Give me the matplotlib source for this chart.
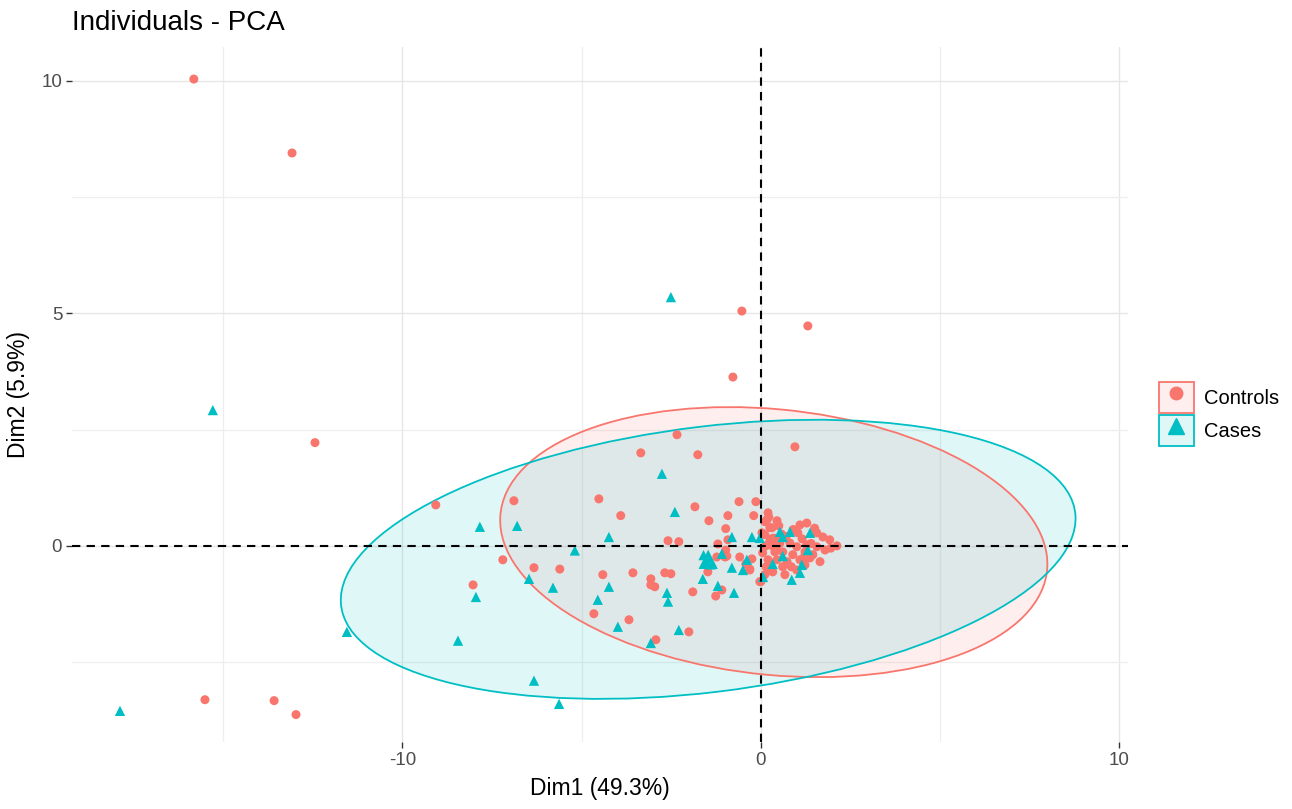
import numpy as np
import matplotlib.pyplot as plt
from matplotlib.patches import Ellipse, Patch
from matplotlib.lines import Line2D
from matplotlib.legend_handler import HandlerTuple
from matplotlib.colors import to_rgba

title = 'Individuals - PCA'
xlab = 'Dim1 (49.3%)'
ylab = 'Dim2 (5.9%)'

groups = ['Controls', 'Cases']
colors = ['#F8766D', '#00BFC4']
markers = ['o', '^']

# individuals
ctrl_x = [-15.82, -13.08, -12.44, -0.53, 1.31, -0.78, 0.95, -15.51, -13.58, -12.97, -9.07, -8.03,
          -6.89, -7.2, -6.33, -5.61, -4.66, -4.52,
          -2.34, -3.35, -1.76, -3.91, -1.84, -0.61, -0.14, -1.45, -0.92, -0.98, -0.2, -2.59,
          -2.29, -1.2, -0.92, -4.41, -3.57, -3.07, -3.07, -2.96, -2.68, -2.51, -3.68, -2.01,
          -2.93, -1.9, -1.26, -1.09, -1.48, -1.23, -0.95, -0.98, -0.59, -0.42, -0.31, -0.25,
          0.0, 0.33, 0.11, -1.0, -0.31,
          0.11, 0.17, 0.2, 0.22, 0.11, 0.45, 0.5, 0.25, 0.03, 1.09, 1.28, 1.03, 1.56, 1.73,
          1.92, 2.12, 0.53, 0.81, 1.0, 1.28, 1.56, 1.79, 0.39, 0.61, 0.89, 1.23, 1.45, 0.45,
          0.73, 1.09, 1.37, 1.65, 0.2, 0.61, 1.23, 1.0, 0.25, 0.67, -0.03, 0.31, 0.45, 0.33,
          0.14, 0.7, 1.15, 1.4, 0.9, 1.5, 0.58, 0.05, 1.95, 1.2, 0.85, 0.15]
ctrl_y = [10.04, 8.45, 2.22, 5.05, 4.73, 3.63, 2.13, -3.31, -3.33, -3.63, 0.88, -0.84,
          0.97, -0.3, -0.47, -0.5, -1.46, 1.01,
          2.39, 2.0, 1.96, 0.65, 0.84, 0.95, 0.95, 0.54, 0.65, 0.37, 0.65, 0.11,
          0.09, 0.04, 0.13, -0.62, -0.58, -0.71, -0.84, -0.88, -0.58, -0.6, -1.59, -1.85,
          -2.02, -0.99, -1.08, -0.95, -0.56, -0.24, -0.22, -0.09, -0.24, -0.39, -0.5, -0.28,
          -0.77, -0.56, -0.62, -0.24, -0.52,
          0.24, 0.56, 0.71, 0.62, 0.52, 0.54, 0.43, 0.39, 0.28, 0.45, 0.49, 0.28, 0.28, 0.19,
          0.13, 0.0, 0.06, 0.06, -0.02, 0.02, -0.02, -0.09, -0.13, -0.13, -0.19, -0.13, -0.19, -0.3,
          -0.34, -0.3, -0.26, -0.34, -0.3, -0.45, -0.41, -0.52, -0.52, -0.62, -0.77, 0.39, -0.09, 0.06,
          0.0, 0.2, 0.15, 0.05, 0.35, 0.38, 0.25, -0.15, -0.05, -0.25, -0.45, -0.45]
case_x = [-17.88, -15.29, -2.51, -11.55, -8.45, -7.95, -7.84, -6.33, -5.63, -6.8, -5.19, -6.47,
          -5.8, -4.55, -2.76, -2.4, -4.24, -0.81, -0.25, -0.03, -0.81, -1.62, -1.2, -0.75,
          -0.5, -4.24, -2.62, -2.59, -3.99, -2.29, -3.07, 0.33, 0.53, 0.81, 1.37, 1.31,
          0.61, 1.14, 1.09, 0.86, -0.39, -1.09, 0.61, 0.06, -1.6, -1.4]
case_y = [-3.55, 2.92, 5.35, -1.85, -2.04, -1.1, 0.41, -2.9, -3.4, 0.43, -0.1, -0.71,
          -0.9, -1.16, 1.55, 0.73, 0.19, 0.19, 0.19, 0.17, -0.47, -0.71, -0.86, -1.01,
          -0.52, -0.88, -1.01, -1.2, -1.74, -1.81, -2.09, -0.39, 0.3, 0.3, 0.28, -0.09,
          -0.22, -0.41, -0.58, -0.73, -0.3, -0.17, 0.19, -0.67, -0.2, -0.4]

# group means and 95% ellipses (semi axes, angle in degrees)
mean_x = [0.36, -1.47]
mean_y = [0.08, -0.29]
ell_a = [7.65, 10.29]
ell_b = [2.86, 2.86]
ell_angle = [-4.1, 5.3]


def main():
    plt.rcParams['font.family'] = ['Liberation Sans', 'DejaVu Sans']
    plt.rcParams['axes.unicode_minus'] = False
    fig = plt.figure(figsize=(12.92, 8.09), dpi=100)
    ax = fig.add_axes([0.0557, 0.0828, 0.8173, 0.8591])

    # grid like theme_minimal
    ax.set_xlim(-19.22, 10.24)
    ax.set_ylim(-4.22, 10.73)
    ax.set_xticks([-10, 0, 10])
    ax.set_yticks([0, 5, 10])
    ax.set_xticks([-15, -5, 5], minor=True)
    ax.set_yticks([-2.5, 2.5, 7.5], minor=True)
    ax.grid(True, which='major', color='#E6E6E6', lw=1.0)
    ax.grid(True, which='minor', color='#EEEEEE', lw=0.9)
    ax.set_axisbelow(True)
    for s in ax.spines.values():
        s.set_visible(False)
    ax.tick_params(which='major', length=4, width=1, color='#333333',
                   labelsize=13.5, labelcolor='#4D4D4D', pad=3)
    ax.tick_params(which='minor', length=0)

    xs = [ctrl_x, case_x]
    ys = [ctrl_y, case_y]
    sizes = [42, 55]
    alpha = 0.12
    handles = []
    # fills first, then outlines on top of both fills
    for i, g in enumerate(groups):
        ax.add_patch(Ellipse((mean_x[i], mean_y[i]), 2 * ell_a[i], 2 * ell_b[i], angle=ell_angle[i],
                             facecolor=to_rgba(colors[i], alpha), edgecolor='none', zorder=1))
    for i, g in enumerate(groups):
        ax.add_patch(Ellipse((mean_x[i], mean_y[i]), 2 * ell_a[i], 2 * ell_b[i], angle=ell_angle[i],
                             facecolor='none', edgecolor=colors[i], lw=1.3, zorder=2))
    for i, g in enumerate(groups):
        ax.scatter(xs[i], ys[i], s=sizes[i], marker=markers[i], color=colors[i],
                   edgecolors='none', zorder=3)
        # mean point
        ax.scatter([mean_x[i]], [mean_y[i]], s=sizes[i] * 3.5, marker=markers[i],
                   color=colors[i], edgecolors='none', zorder=3)
        box = Patch(facecolor=to_rgba(colors[i], alpha), edgecolor=colors[i], lw=1.3)
        mk = Line2D([], [], marker=markers[i], color=colors[i], linestyle='none',
                    markersize=9 if i == 0 else 12)
        handles.append((box, mk))

    ax.axhline(0, color='black', lw=1.5, ls=(0, (4, 3)), zorder=4)
    ax.axvline(0, color='black', lw=1.5, ls=(0, (4, 3)), zorder=4)

    ax.set_xlabel(xlab, fontsize=16.5, labelpad=6)
    ax.set_ylabel(ylab, fontsize=16.5, labelpad=8)
    fig.text(0.0557, 0.972, title, fontsize=20, va='center', ha='left')

    fig.legend(handles, groups, handler_map={tuple: HandlerTuple(ndivide=1, pad=0)},
               loc='center left', bbox_to_anchor=(0.889, 0.488), frameon=False,
               fontsize=14.5, handlelength=1.75, handleheight=2.0, labelspacing=0.1,
               handletextpad=0.5, borderpad=0, numpoints=1)

    fig.savefig('out.png', dpi=100)


if __name__ == '__main__':
    main()
